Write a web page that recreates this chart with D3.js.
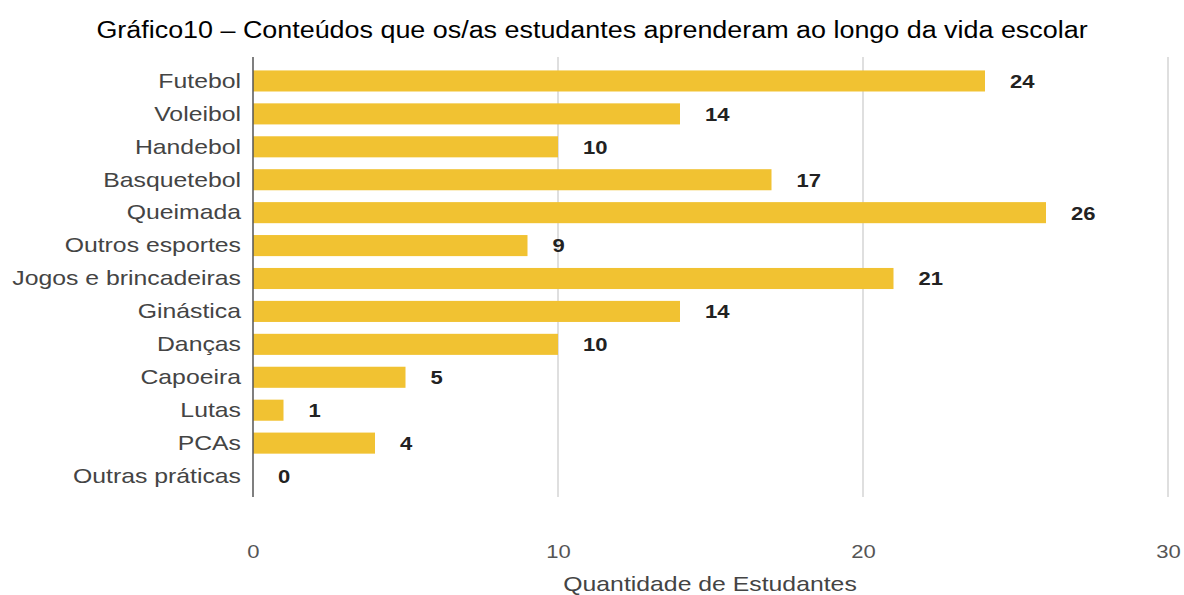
<!DOCTYPE html>
<html>
<head>
<meta charset="utf-8">
<script src="https://cdn.jsdelivr.net/npm/d3@7"></script>
<style>
  body { margin: 0; background: #fff; }
  svg { display: block; }
</style>
</head>
<body>
<svg id="chart" width="1184" height="595"></svg>
<script>
// Conteúdos aprendidos ao longo da vida escolar
const categories = [
  "Futebol", "Voleibol", "Handebol", "Basquetebol", "Queimada",
  "Outros esportes", "Jogos e brincadeiras", "Ginástica", "Danças",
  "Capoeira", "Lutas", "PCAs", "Outras práticas"
];
const values = [24, 14, 10, 17, 26, 9, 21, 14, 10, 5, 1, 4, 0];
const xTicks = [0, 10, 20, 30];

const svg = d3.select("#chart");
const font = "Arial, 'Liberation Sans', sans-serif";
const titleStretch = 1.17;  // wide lettering for the heading
const labelStretch = 1.24;  // wide lettering for axis texts
const valueStretch = 1.16;

const x = d3.scaleLinear().domain([0, 30]).range([253, 1168]);
const y = d3.scaleBand().domain(categories).range([64.5, 492.5]).paddingInner(0.36).paddingOuter(0.18);

// title
svg.append("text")
  .attr("transform", `translate(592,38) scale(${titleStretch},1)`)
  .attr("text-anchor", "middle")
  .attr("font-family", font).attr("font-size", 23).attr("fill", "#000")
  .text("Gráfico10 – Conteúdos que os/as estudantes aprenderam ao longo da vida escolar");

// vertical gridlines
svg.append("g")
  .selectAll("line")
  .data(xTicks.filter(d => d > 0))
  .join("line")
  .attr("x1", d => x(d)).attr("x2", d => x(d))
  .attr("y1", 57).attr("y2", 497)
  .attr("stroke", "#d4d4d4").attr("stroke-width", 1.5);

const rows = categories.map((c, i) => ({ c, v: values[i] }));

// bars
svg.append("g")
  .selectAll("rect")
  .data(rows)
  .join("rect")
  .attr("x", x(0))
  .attr("y", d => y(d.c))
  .attr("width", d => x(d.v) - x(0))
  .attr("height", y.bandwidth())
  .attr("fill", "#f1c232");

// value labels
svg.append("g")
  .selectAll("text")
  .data(rows)
  .join("text")
  .attr("transform", d => `translate(${x(d.v) + 25},${y(d.c) + y.bandwidth() / 2}) scale(${valueStretch},1)`)
  .attr("dy", "0.36em")
  .attr("font-family", font).attr("font-size", 19).attr("font-weight", "bold")
  .attr("fill", "#222")
  .text(d => d.v);

// y axis (category labels + baseline)
const yAxis = d3.axisLeft(y).tickSize(0).tickPadding(12 / labelStretch);
const gy = svg.append("g").attr("transform", `translate(${x(0)},0)`).call(yAxis);
gy.select(".domain").remove();
gy.selectAll("text")
  .attr("transform", `scale(${labelStretch},1)`)
  .attr("dy", "0.34em")
  .attr("font-family", font).attr("font-size", 20).attr("fill", "#444");

svg.append("line")
  .attr("x1", x(0)).attr("x2", x(0))
  .attr("y1", 57).attr("y2", 497)
  .attr("stroke", "#555").attr("stroke-width", 1.5);

// x axis tick labels
const xAxis = d3.axisBottom(x).tickValues(xTicks).tickSize(0).tickPadding(0);
const gx = svg.append("g").attr("transform", "translate(0,545)").call(xAxis);
gx.select(".domain").remove();
gx.selectAll("text")
  .attr("transform", `scale(${valueStretch},1)`)
  .attr("font-family", font).attr("font-size", 19).attr("fill", "#555");

// x axis title
svg.append("text")
  .attr("transform", `translate(710,591) scale(${labelStretch},1)`)
  .attr("text-anchor", "middle")
  .attr("font-family", font).attr("font-size", 20).attr("fill", "#444")
  .text("Quantidade de Estudantes");
</script>
</body>
</html>
